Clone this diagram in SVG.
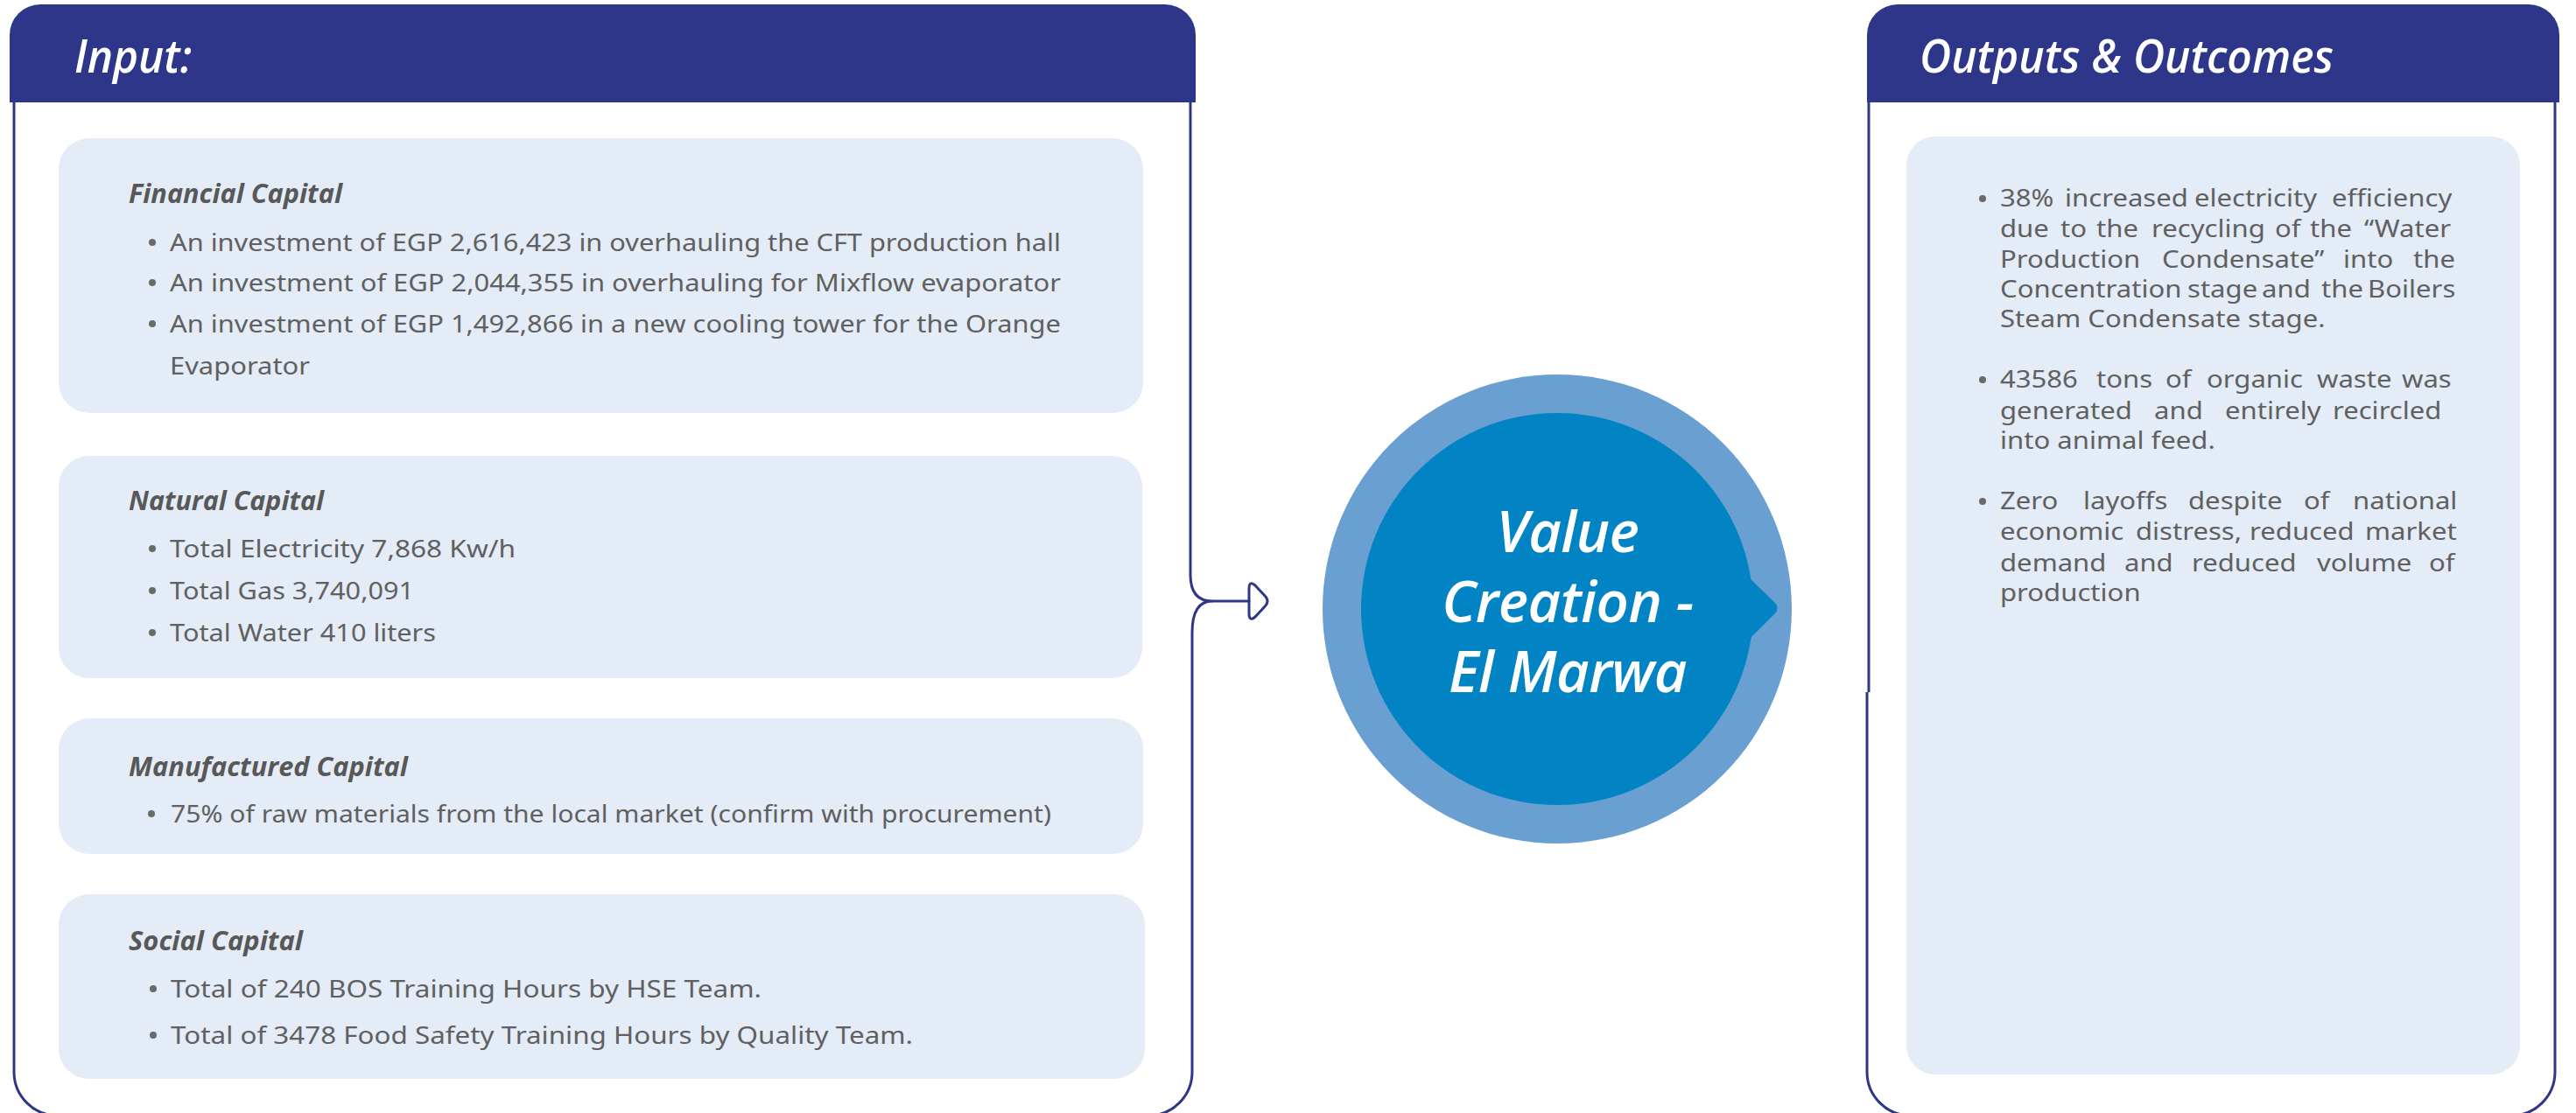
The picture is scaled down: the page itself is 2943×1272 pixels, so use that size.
<svg xmlns="http://www.w3.org/2000/svg" width="2943" height="1272" viewBox="0 0 2943 1272">
<style>
.hdr{fill:#2E3689}
.outline{fill:none;stroke:#2E3689;stroke-width:3}
.box{fill:#E4ECF7}
.htxt{font-family:"Open Sans","Noto Sans",sans-serif;font-style:italic;font-weight:600;font-size:52px;fill:#FFFFFF}
.ttl{font-family:"Open Sans","Noto Sans",sans-serif;font-style:italic;font-weight:700;font-size:31px;fill:#585858}
.txt{font-family:"Noto Sans","Open Sans",sans-serif;font-weight:400;font-size:28px;fill:#606060}
.dot{fill:#6A6A6A}
.ctxt{font-family:"Open Sans","Noto Sans",sans-serif;font-style:italic;font-weight:600;font-size:65px;fill:#FFFFFF;letter-spacing:-0.5px}
.conn{fill:none;stroke:#2E3689;stroke-width:3;stroke-linejoin:round;stroke-linecap:round}
</style>

<g id="input-panel">
  <path class="hdr" d="M11,117 V40 A35,35 0 0 1 46,5 H1331 A35,35 0 0 1 1366,40 V117 Z"/>
  <text class="htxt" x="85" y="83" textLength="134" lengthAdjust="spacingAndGlyphs">Input:</text>
  <path class="outline" d="M1360,117 V657 Q1360,687 1385,687 Q1362,687 1362,723 V1225 A50,50 0 0 1 1312,1275 H66 A50,50 0 0 1 16,1225 V117"/>
</g>

<g id="financial-capital">
  <rect class="box" x="67" y="158" width="1239" height="314" rx="35" ry="35"/>
  <text class="ttl" x="147" y="232" textLength="244" lengthAdjust="spacingAndGlyphs">Financial Capital</text>
  <circle class="dot" cx="174" cy="277" r="4"/>
  <text class="txt" x="194" y="287" textLength="1018" lengthAdjust="spacingAndGlyphs">An investment of EGP 2,616,423 in overhauling the CFT production hall</text>
  <circle class="dot" cx="174" cy="323" r="4"/>
  <text class="txt" x="194" y="333" textLength="1018" lengthAdjust="spacingAndGlyphs">An investment of EGP 2,044,355 in overhauling for Mixflow evaporator</text>
  <circle class="dot" cx="174" cy="370" r="4"/>
  <text class="txt" x="194" y="380" textLength="1018" lengthAdjust="spacingAndGlyphs">An investment of EGP 1,492,866 in a new cooling tower for the Orange</text>
  <text class="txt" x="194" y="428" textLength="160" lengthAdjust="spacingAndGlyphs">Evaporator</text>
</g>

<g id="natural-capital">
  <rect class="box" x="67" y="521" width="1238" height="254" rx="35" ry="35"/>
  <text class="ttl" x="147" y="583" textLength="223" lengthAdjust="spacingAndGlyphs">Natural Capital</text>
  <circle class="dot" cx="174" cy="627" r="4"/>
  <text class="txt" x="194" y="637" textLength="395" lengthAdjust="spacingAndGlyphs">Total Electricity 7,868 Kw/h</text>
  <circle class="dot" cx="174" cy="675" r="4"/>
  <text class="txt" x="194" y="685" textLength="279" lengthAdjust="spacingAndGlyphs">Total Gas 3,740,091</text>
  <circle class="dot" cx="174" cy="723" r="4"/>
  <text class="txt" x="194" y="733" textLength="304" lengthAdjust="spacingAndGlyphs">Total Water 410 liters</text>
</g>

<g id="manufactured-capital">
  <rect class="box" x="67" y="821" width="1239" height="155" rx="35" ry="35"/>
  <text class="ttl" x="147" y="887" textLength="319" lengthAdjust="spacingAndGlyphs">Manufactured Capital</text>
  <circle class="dot" cx="173" cy="930" r="4"/>
  <text class="txt" x="195" y="940" textLength="1006" lengthAdjust="spacingAndGlyphs">75% of raw materials from the local market (confirm with procurement)</text>
</g>

<g id="social-capital">
  <rect class="box" x="67" y="1022" width="1241" height="211" rx="35" ry="35"/>
  <text class="ttl" x="147" y="1086" textLength="199" lengthAdjust="spacingAndGlyphs">Social Capital</text>
  <circle class="dot" cx="175" cy="1130" r="4"/>
  <text class="txt" x="195" y="1140" textLength="675" lengthAdjust="spacingAndGlyphs">Total of 240 BOS Training Hours by HSE Team.</text>
  <circle class="dot" cx="175" cy="1183" r="4"/>
  <text class="txt" x="195" y="1193" textLength="848" lengthAdjust="spacingAndGlyphs">Total of 3478 Food Safety Training Hours by Quality Team.</text>
</g>

<g id="value-creation">
  <circle cx="1779" cy="696" r="268" fill="#6A9FD2"/>
  <circle cx="1779" cy="696" r="224" fill="#0283C4"/>
  <path d="M1990,653 L2000,662 L2027,688 Q2034,695 2027,702 L2000,729 L1990,738 Z" fill="#0283C4"/>
  <text class="ctxt" text-anchor="middle"><tspan x="1791" y="631">Value</tspan><tspan x="1791" y="711">Creation -</tspan><tspan x="1791" y="791">El Marwa</tspan></text>
</g>

<g id="outputs-panel">
  <path class="hdr" d="M2133,117 V40 A35,35 0 0 1 2168,5 H2889 A35,35 0 0 1 2924,40 V117 Z"/>
  <text class="htxt" x="2193" y="83" textLength="473" lengthAdjust="spacingAndGlyphs">Outputs &amp; Outcomes</text>
  <path class="outline" d="M2135,117 V791 M2133,791 V1225 A50,50 0 0 0 2183,1275 H2869 A50,50 0 0 0 2919,1225 V117"/>
  <rect class="box" x="2178" y="156" width="701" height="1072" rx="33" ry="33"/>
  <circle class="dot" cx="2265" cy="227" r="4"/>
  <circle class="dot" cx="2265" cy="434" r="4"/>
  <circle class="dot" cx="2265" cy="573" r="4"/>
  <g class="txt" transform="translate(2285,0) scale(1.11,1) translate(-2285,0)">
    <text y="236"><tspan x="2285">38%</tspan><tspan x="2351.7">increased</tspan><tspan x="2485">electricity</tspan><tspan x="2626.4">efficiency</tspan></text>
    <text y="271"><tspan x="2285">due</tspan><tspan x="2347.2">to</tspan><tspan x="2384.1">the</tspan><tspan x="2440.9">recycling</tspan><tspan x="2567.9">of</tspan><tspan x="2603.9">the</tspan><tspan x="2659.8">“Water</tspan></text>
    <text y="306"><tspan x="2285">Production</tspan><tspan x="2451.7">Condensate”</tspan><tspan x="2638.2">into</tspan><tspan x="2710.2">the</tspan></text>
    <text y="340"><tspan x="2285">Concentration</tspan><tspan x="2477.8">stage</tspan><tspan x="2554.4">and</tspan><tspan x="2615.6">the</tspan><tspan x="2663.4">Boilers</tspan></text>
    <text x="2285" y="374">Steam Condensate stage.</text>
    <text y="443"><tspan x="2285">43586</tspan><tspan x="2384.1">tons</tspan><tspan x="2455.3">of</tspan><tspan x="2497.6">organic</tspan><tspan x="2611.1">waste</tspan><tspan x="2698.5">was</tspan></text>
    <text y="479"><tspan x="2285">generated</tspan><tspan x="2443.6">and</tspan><tspan x="2516.5">entirely</tspan><tspan x="2627.3">recircled</tspan></text>
    <text x="2285" y="513">into animal feed.</text>
    <text y="582"><tspan x="2285">Zero</tspan><tspan x="2370.6">layoffs</tspan><tspan x="2478.7">despite</tspan><tspan x="2597.6">of</tspan><tspan x="2648.1">national</tspan></text>
    <text y="617"><tspan x="2285">economic</tspan><tspan x="2424.6">distress,</tspan><tspan x="2541.8">reduced</tspan><tspan x="2660.7">market</tspan></text>
    <text y="653"><tspan x="2285">demand</tspan><tspan x="2412.9">and</tspan><tspan x="2482.3">reduced</tspan><tspan x="2611.1">volume</tspan><tspan x="2726.4">of</tspan></text>
    <text x="2285" y="687">production</text>
  </g>
</g>

<g id="connectors">
  <path class="conn" d="M1385,687 H1427"/>
  <path class="conn" d="M1427,687 V673 Q1427,663 1434,669 L1446,682 Q1450,687 1446,692 L1434,705 Q1427,711 1427,701 Z" fill="#FFFFFF"/>
</g>
</svg>
